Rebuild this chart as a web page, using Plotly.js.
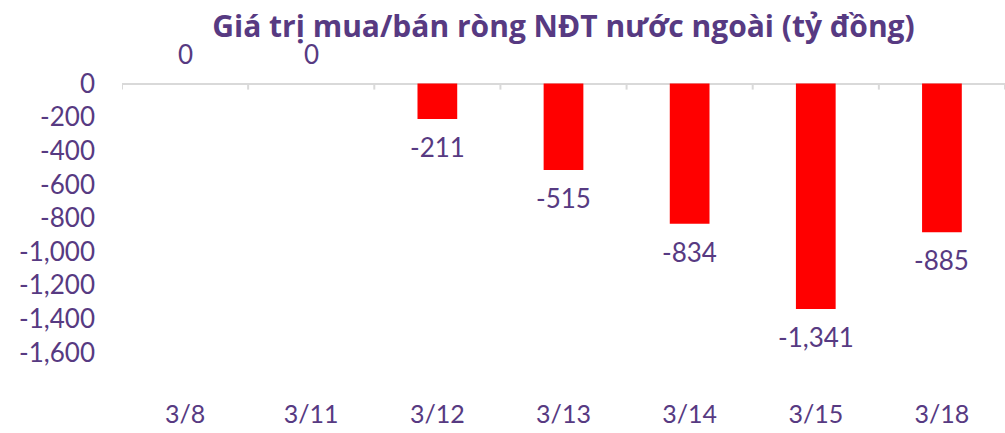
<!DOCTYPE html>
<html>
<head>
<meta charset="utf-8">
<script src="https://cdn.plot.ly/plotly-3.0.1.min.js"></script>
<style>html,body{margin:0;padding:0;background:#fff;}#chart{width:1005px;height:433px;}</style>
</head>
<body>
<div id="chart"></div>
<script>
const categories = ["3/8", "3/11", "3/12", "3/13", "3/14", "3/15", "3/18"];
const netValues = [0, 0, -211, -515, -834, -1341, -885];
const yTickValues = [0, -200, -400, -600, -800, -1000, -1200, -1400, -1600];
const chartTitle = "Giá trị mua/bán ròng NĐT nước ngoài (tỷ đồng)";

const purple = "#573a82";
const fontFamily = 'Lato, "Open Sans", sans-serif';

function fmt(v) {
  const s = Math.abs(v).toString().replace(/\B(?=(\d{3})+(?!\d))/g, ",");
  return (v < 0 ? "-" : "") + s;
}

const trace = {
  type: "bar",
  x: categories,
  y: netValues,
  marker: { color: "#ff0000" },
  hoverinfo: "x+y"
};

const annotations = categories.map((c, i) => ({
  x: c,
  y: netValues[i],
  xref: "x",
  yref: "y",
  text: fmt(netValues[i]),
  showarrow: false,
  yanchor: "middle",
  yshift: netValues[i] < 0 ? -28 : 30,
  font: { family: fontFamily, size: 26, color: purple }
}));

const shapes = [];
for (let i = 0; i <= categories.length; i++) {
  shapes.push({
    type: "line",
    xref: "x",
    yref: "y",
    ysizemode: "pixel",
    yanchor: 0,
    x0: i - 0.5,
    x1: i - 0.5,
    y0: 0,
    y1: -6,
    line: { color: "#d9d9d9", width: 2 }
  });
}

const layout = {
  width: 1005,
  height: 433,
  margin: { l: 122, r: 0, t: 50, b: 47 },
  paper_bgcolor: "#ffffff",
  plot_bgcolor: "#ffffff",
  showlegend: false,
  bargap: 0.685,
  title: {
    text: chartTitle,
    x: 0.5,
    xref: "paper",
    xanchor: "center",
    y: 1 - 26 / 433,
    yref: "container",
    yanchor: "middle",
    font: { family: '"Open Sans", Lato, sans-serif', size: 30, color: purple, weight: 700 }
  },
  xaxis: {
    type: "category",
    range: [-0.5, categories.length - 0.5],
    showline: false,
    showgrid: false,
    zeroline: false,
    ticks: "",
    ticklabelstandoff: 11,
    tickfont: { family: fontFamily, size: 25, color: purple }
  },
  yaxis: {
    range: [-1800, 200],
    tickvals: yTickValues,
    ticktext: yTickValues.map(fmt),
    showgrid: false,
    showline: false,
    ticks: "",
    zeroline: true,
    zerolinecolor: "#d9d9d9",
    zerolinewidth: 2,
    ticklabelstandoff: 26,
    tickfont: { family: fontFamily, size: 26, color: purple }
  },
  annotations: annotations,
  shapes: shapes
};

Plotly.newPlot("chart", [trace], layout, { displayModeBar: false, staticPlot: true });
</script>
</body>
</html>
